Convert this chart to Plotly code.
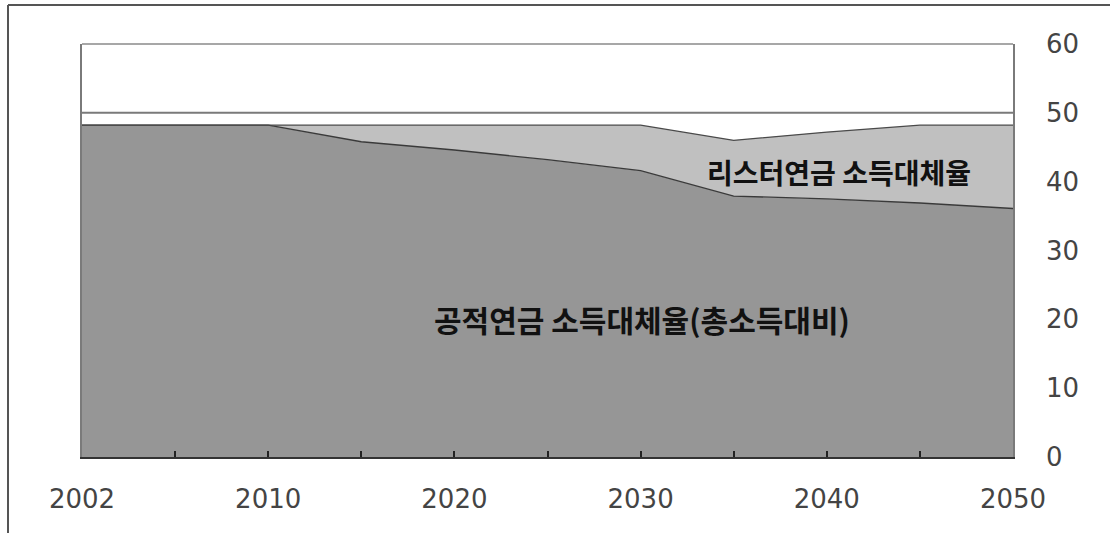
import plotly.graph_objects as go

years = ["2002", "2005", "2010", "2015", "2020", "2025", "2030", "2035", "2040", "2045", "2050"]
tick_labels = ["2002", "", "2010", "", "2020", "", "2030", "", "2040", "", "2050"]
public_pension = [48.2, 48.2, 48.2, 45.8, 44.6, 43.2, 41.6, 37.9, 37.5, 36.9, 36.1]
riester_pension = [0.0, 0.0, 0.0, 2.4, 3.6, 5.0, 6.6, 8.1, 9.7, 11.3, 12.1]
target_line = [50, 50, 50, 50, 50, 50, 50, 50, 50, 50, 50]
y_ticks = [0, 10, 20, 30, 40, 50, 60]

idx = list(range(len(years)))

fig = go.Figure()
fig.add_trace(go.Scatter(
    x=idx, y=public_pension, stackgroup="one", mode="lines",
    line=dict(color="#3a3a3a", width=1.3), fillcolor="#969696",
    name="공적연금 소득대체율(총소득대비)", hoverinfo="skip",
))
fig.add_trace(go.Scatter(
    x=idx, y=riester_pension, stackgroup="one", mode="lines",
    line=dict(color="#4a4a4a", width=1.3), fillcolor="#c0c0c0",
    name="리스터연금 소득대체율", hoverinfo="skip",
))
fig.add_trace(go.Scatter(
    x=idx, y=target_line, mode="lines",
    line=dict(color="#7a7a7a", width=2), hoverinfo="skip", name="",
))

fig.add_annotation(x=8.13, y=41.4, text="리스터연금 소득대체율", showarrow=False,
                   font=dict(family="Noto Sans CJK KR", size=28, color="#111111", weight="bold"))
fig.add_annotation(x=6.02, y=20.1, text="공적연금 소득대체율(총소득대비)", showarrow=False,
                   font=dict(family="Noto Sans CJK KR", size=30, color="#111111", weight="bold"))

# outer frame (left and top edges of the chart box)
L, R, T, B = 82, 97, 44, 76
pw, ph = 1110 - L - R, 533 - T - B
fx0 = (8 - L) / pw
fy1 = (533 - B - 5) / ph
fig.add_shape(type="line", xref="paper", yref="paper", x0=fx0, x1=fx0, y0=-0.3, y1=fy1,
              line=dict(color="#555555", width=2))
fig.add_shape(type="line", xref="paper", yref="paper", x0=fx0, x1=1.2, y0=fy1, y1=fy1,
              line=dict(color="#555555", width=2))

fig.update_layout(
    width=1110, height=533,
    margin=dict(l=L, r=R, t=T, b=B),
    paper_bgcolor="white", plot_bgcolor="white",
    showlegend=False,
    font=dict(family="DejaVu Sans", size=26, color="#444444"),
)
fig.update_xaxes(
    range=[0, 10], tickvals=idx, ticktext=tick_labels,
    ticks="inside", ticklen=6, tickcolor="#222222", tickwidth=1.5,
    showline=True, linecolor="#333333", linewidth=2, mirror=False,
    showgrid=False, zeroline=False, ticklabelstandoff=18,
    tickfont=dict(family="DejaVu Sans", size=26, color="#444444"),
)
fig.update_yaxes(
    range=[0, 60], tickvals=y_ticks, side="right",
    showline=True, linecolor="#7a7a7a", linewidth=1.5, mirror=True,
    showgrid=False, zeroline=False, ticks="", ticklabelstandoff=26,
    tickfont=dict(family="DejaVu Sans", size=26, color="#444444"),
)
fig.add_shape(type="line", xref="paper", yref="paper", x0=0, x1=1, y0=1, y1=1,
              line=dict(color="#8a8a8a", width=1.5))

fig.write_html("out.html")
